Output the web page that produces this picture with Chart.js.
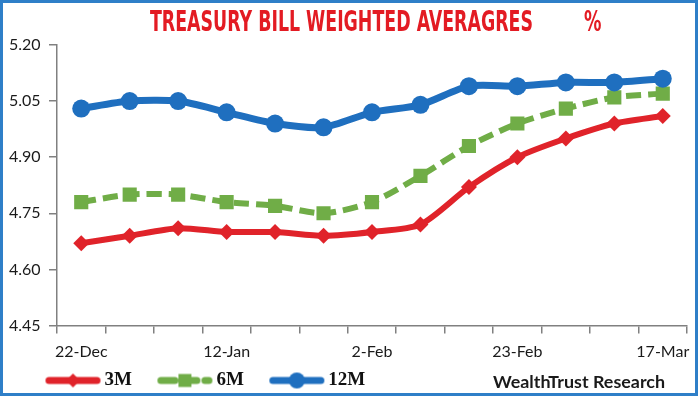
<!DOCTYPE html>
<html>
<head>
<meta charset="utf-8">
<script src="https://cdn.jsdelivr.net/npm/chart.js@4/dist/chart.umd.min.js"></script>
<style>
  html, body { margin: 0; padding: 0; background: #fff; }
  #wrap { width: 700px; height: 400px; position: relative; }
</style>
</head>
<body>
<div id="wrap"><canvas id="tbChart" width="700" height="400"></canvas></div>
<script>
// Weekly treasury bill weighted averages (%)
const weeks = ['22-Dec', '29-Dec', '5-Jan', '12-Jan', '19-Jan', '26-Jan', '2-Feb',
               '9-Feb', '16-Feb', '23-Feb', '2-Mar', '9-Mar', '17-Mar'];
const shownLabels = ['22-Dec', '12-Jan', '2-Feb', '23-Feb', '17-Mar'];
const bill3M  = [4.67, 4.69, 4.71, 4.70, 4.70, 4.69, 4.70, 4.72, 4.82, 4.90, 4.95, 4.99, 5.01];
const bill6M  = [4.78, 4.80, 4.80, 4.78, 4.77, 4.75, 4.78, 4.85, 4.93, 4.99, 5.03, 5.06, 5.07];
const bill12M = [5.03, 5.05, 5.05, 5.02, 4.99, 4.98, 5.02, 5.04, 5.09, 5.09, 5.10, 5.10, 5.11];
const yTicks = [4.45, 4.60, 4.75, 4.90, 5.05, 5.20];

const RED = '#e0232a';
const GREEN = '#70ad47';
const BLUE = '#1f6fbf';
const tickFont = { family: 'Lato, "Open Sans", sans-serif', size: 16 };

// legend geometry: swatch box width and where the swatch sits inside it
const SWATCH_BOX = 67;
const SWATCH_OFFSET = 17;

// little line+marker swatches for the legend (canvas is centred on the box)
function legendSwatch(color, marker, dashed) {
    const c = document.createElement('canvas');
    const cw = 120;
    c.width = cw; c.height = 20;
    const x0 = SWATCH_OFFSET + cw / 2 - SWATCH_BOX / 2;
    const mid = x0 + 28;
    const g = c.getContext('2d');
    g.strokeStyle = color;
    g.fillStyle = color;
    g.lineWidth = 7;
    g.lineCap = 'round';
    if (dashed) g.setLineDash([14, 8]);
    g.beginPath(); g.moveTo(x0 + 4, 10); g.lineTo(x0 + 52, 10); g.stroke();
    g.setLineDash([]);
    g.beginPath();
    if (marker === 'diamond') {
        g.moveTo(mid, 3); g.lineTo(mid + 7, 10); g.lineTo(mid, 17); g.lineTo(mid - 7, 10); g.closePath();
    } else if (marker === 'square') {
        g.rect(mid - 6.5, 3.5, 13, 13);
    } else {
        g.arc(mid, 10, 8, 0, Math.PI * 2);
    }
    g.fill();
    return c;
}

const swatches = [
    legendSwatch(RED, 'diamond', false),
    legendSwatch(GREEN, 'square', true),
    legendSwatch(BLUE, 'circle', false)
];

const decorPlugin = {
    id: 'decor',
    afterDraw(chart) {
        const ctx = chart.ctx;
        ctx.save();
        // frame
        ctx.strokeStyle = '#2f7fc8';
        ctx.lineWidth = 3;
        ctx.strokeRect(1.5, 1.5, 695, 393);

        // title, squeezed to the width of the original
        const titleText = 'TREASURY BILL WEIGHTED AVERAGRES';
        ctx.fillStyle = '#e31b23';
        ctx.font = 'bold 28px "Liberation Sans Narrow", "DejaVu Sans Condensed", "Liberation Sans", sans-serif';
        ctx.textBaseline = 'alphabetic';
        ctx.textAlign = 'left';
        const w = ctx.measureText(titleText).width;
        const sx = 383 / w;
        ctx.save();
        ctx.translate(150, 31);
        ctx.scale(sx, 1);
        ctx.fillText(titleText, 0, 0);
        ctx.restore();
        ctx.save();
        ctx.translate(584, 31);
        ctx.scale(sx, 1);
        ctx.fillText('%', 0, 0);
        ctx.restore();

        // source note
        const src = 'WealthTrust Research';
        ctx.fillStyle = '#1a1a1a';
        ctx.font = 'bold 17px Lato, "Open Sans", sans-serif';
        const sw = ctx.measureText(src).width;
        ctx.save();
        ctx.translate(493, 388);
        ctx.scale(172 / sw, 1);
        ctx.fillText(src, 0, 0);
        ctx.restore();
        ctx.restore();
    }
};

new Chart(document.getElementById('tbChart'), {
    type: 'line',
    data: {
        labels: weeks,
        datasets: [{
            label: '3M',
            data: bill3M,
            borderColor: RED,
            backgroundColor: RED,
            borderWidth: 6,
            pointStyle: 'rectRot',
            pointRadius: 8,
            pointHoverRadius: 8,
            pointBorderWidth: 0,
            tension: 0.25,
            order: 3
        }, {
            label: '6M',
            data: bill6M,
            borderColor: GREEN,
            backgroundColor: GREEN,
            borderWidth: 6,
            borderDash: [15, 7],
            pointStyle: 'rect',
            pointRadius: 10,
            pointHoverRadius: 10,
            pointBorderWidth: 0,
            tension: 0.25,
            order: 2
        }, {
            label: '12M',
            data: bill12M,
            borderColor: BLUE,
            backgroundColor: BLUE,
            borderWidth: 7,
            pointStyle: 'circle',
            pointRadius: 9,
            pointHoverRadius: 9,
            pointBorderWidth: 0,
            tension: 0.25,
            order: 1
        }]
    },
    options: {
        responsive: false,
        animation: false,
        layout: { padding: { left: 20, right: 13, top: 45, bottom: 0 } },
        plugins: {
            title: { display: false },
            tooltip: { enabled: false },
            legend: {
                position: 'bottom',
                align: 'start',
                labels: {
                    usePointStyle: true,
                    pointStyleWidth: SWATCH_BOX,
                    padding: 8,
                    color: '#111',
                    font: { family: '"Liberation Serif", "DejaVu Serif", serif', size: 19, weight: 'bold' },
                    generateLabels(chart) {
                        return chart.data.datasets.map((ds, i) => ({
                            text: ds.label,
                            pointStyle: swatches[i],
                            fillStyle: ds.borderColor,
                            strokeStyle: ds.borderColor,
                            lineWidth: 0,
                            hidden: false,
                            datasetIndex: i,
                            fontColor: '#111'
                        }));
                    }
                }
            }
        },
        scales: {
            x: {
                offset: true,
                grid: { display: true, drawOnChartArea: false, drawTicks: true, tickLength: 8, offset: true, color: '#808080', lineWidth: 1.5 },
                border: { display: true, color: '#808080', width: 1.5 },
                ticks: {
                    autoSkip: false,
                    maxRotation: 0,
                    color: '#1a1a1a',
                    font: tickFont,
                    padding: 9,
                    callback(value) {
                        const lab = this.getLabelForValue(value);
                        return shownLabels.includes(lab) ? lab : '';
                    }
                },
                afterFit(scale) { scale.height = 37.5; }
            },
            y: {
                min: yTicks[0],
                max: yTicks[yTicks.length - 1],
                afterBuildTicks(scale) {
                    scale.ticks = yTicks.map(v => ({ value: v }));
                },
                grid: { display: true, drawOnChartArea: false, drawTicks: true, tickLength: 8, color: '#808080', lineWidth: 1.5 },
                border: { display: true, color: '#808080', width: 1.5 },
                ticks: {
                    mirror: true,
                    crossAlign: 'near',
                    padding: -48,
                    color: '#1a1a1a',
                    font: tickFont,
                    callback(value) { return Number(value).toFixed(2); }
                },
                afterFit(scale) { scale.width = 37; }
            }
        }
    },
    plugins: [decorPlugin]
});
</script>
</body>
</html>
